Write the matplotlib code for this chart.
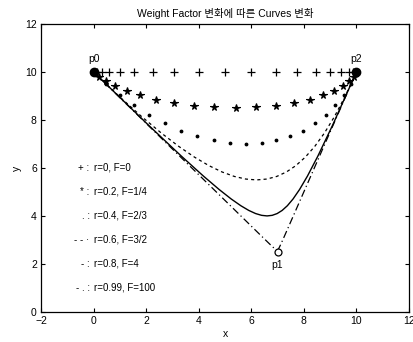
import numpy as np
import matplotlib
matplotlib.use("Agg")
import matplotlib.pyplot as plt

plt.rcParams['font.family'] = ['Liberation Sans', 'Noto Sans CJK KR', 'DejaVu Sans']

# control points
p0 = (0, 10)
p1 = (7, 2.5)
p2 = (10, 10)
point_labels = ['p0', 'p1', 'p2']

# weight factors (r = F/(1+F))
r_values = [0, 0.2, 0.4, 0.6, 0.8, 0.99]
F_values = [0, 1/4, 2/3, 3/2, 4, 99]
F_labels = ['0', '1/4', '2/3', '3/2', '4', '100']
symbols = ['+ :', '* :', '. :', '- - \u00b7', '- :', '- . :']
styles = [dict(ls='none', marker='+', ms=6, mew=0.9),
          dict(ls='none', marker='*', ms=5.5, mew=0.8),
          dict(ls='none', marker='.', ms=3.5),
          dict(ls=(0, (2.5, 2.5)), lw=0.9),
          dict(ls='-', lw=1.0),
          dict(ls=(0, (6, 2.5, 1, 2.5)), lw=0.9)]

t = np.linspace(0, 1, 21)

fig = plt.figure(figsize=(4.14, 3.42), dpi=100)
ax = fig.add_axes([0.099, 0.088, 0.889, 0.842])

P = np.array([p0, p1, p2], dtype=float)
for F, st in zip(F_values, styles):
    b0 = (1 - t) ** 2
    b1 = 2 * F * t * (1 - t)
    b2 = t ** 2
    den = b0 + b1 + b2
    x = (b0 * P[0, 0] + b1 * P[1, 0] + b2 * P[2, 0]) / den
    y = (b0 * P[0, 1] + b1 * P[1, 1] + b2 * P[2, 1]) / den
    ax.plot(x, y, color='black', **st)

# control points
ax.plot([p0[0], p2[0]], [p0[1], p2[1]], 'o', color='black', ms=6, zorder=5)
ax.plot([p1[0]], [p1[1]], 'o', mfc='white', mec='black', ms=5, mew=0.9, zorder=5)
ax.text(p0[0], p0[1] + 0.35, point_labels[0], ha='center', va='bottom', fontsize=7.5)
ax.text(p2[0], p2[1] + 0.35, point_labels[2], ha='center', va='bottom', fontsize=7.5)
ax.text(p1[0], p1[1] - 0.35, point_labels[1], ha='center', va='top', fontsize=7.5)

# legend-like text
for i, (r, fl, s) in enumerate(zip(r_values, F_labels, symbols)):
    yy = 6 - i
    ax.text(-0.15, yy, s, ha='right', va='center', fontsize=7)
    ax.text(0, yy, f'r={r:g}, F={fl}', ha='left', va='center', fontsize=7)

ax.set_xlim(-2, 12)
ax.set_ylim(0, 12)
ax.set_xticks(range(-2, 13, 2))
ax.set_yticks(range(0, 13, 2))
ax.tick_params(direction='in', top=True, right=True, labelsize=7.5, length=3, width=0.8, pad=3)
for sp in ax.spines.values():
    sp.set_linewidth(0.9)
ax.set_xlabel('x', fontsize=7.5, labelpad=2)
ax.set_ylabel('y', fontsize=7.5, labelpad=2)
ax.set_title('Weight Factor 변화에 따른 Curves 변화', fontsize=7.5, pad=5)

fig.savefig('out.png', dpi=100)
